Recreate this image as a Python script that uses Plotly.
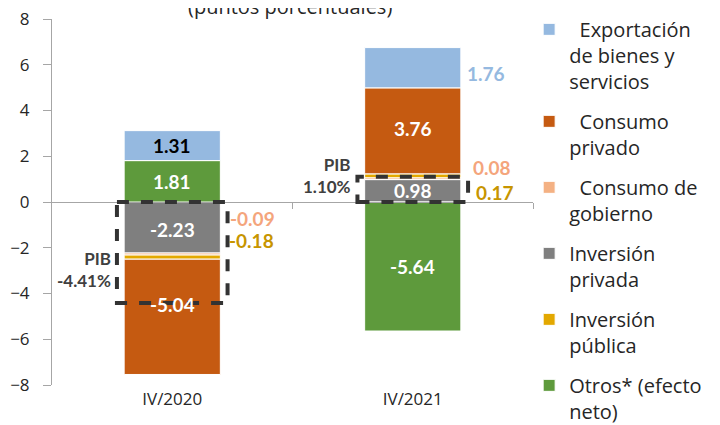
import plotly.graph_objects as go

categories = ["IV/2020", "IV/2021"]
exportacion = [1.31, 1.76]
consumo_privado = [-5.04, 3.76]
consumo_gobierno = [-0.09, 0.08]
inversion_privada = [-2.23, 0.98]
inversion_publica = [-0.18, 0.17]
otros = [1.81, -5.64]
pib = [-4.41, 1.10]
y_ticks = [-8, -6, -4, -2, 0, 2, 4, 6, 8]

AX_FONT = "Open Sans"
LBL_FONT = "Lato"

# (name, values, color, legend rank, legend label)
series = [
    ("Inversión privada", inversion_privada, "#7F7F7F", 4, "Inversión<br>privada"),
    ("Consumo de gobierno", consumo_gobierno, "#F4B183", 3, "&nbsp;&nbsp;Consumo de<br>gobierno"),
    ("Inversión pública", inversion_publica, "#E3A800", 5, "Inversión<br>pública"),
    ("Otros* (efecto neto)", otros, "#5E9A3C", 6, "Otros* (efecto<br>neto)"),
    ("Consumo privado", consumo_privado, "#C55A11", 2, "&nbsp;&nbsp;Consumo<br>privado"),
    ("Exportación de bienes y servicios", exportacion, "#95B9E0", 1,
     "&nbsp;&nbsp;Exportación<br>de bienes y<br>servicios"),
]

fig = go.Figure()
for name, vals, color, rank, lname in series:
    fig.add_trace(go.Bar(
        x=categories, y=vals, name=lname, marker_color=color,
        marker_line=dict(color="white", width=1), width=0.4,
        legendrank=rank, legendgroup=name, hoverinfo="skip",
    ))

# invisible trace so the zero-line axis (with boundary ticks) is drawn
fig.add_trace(go.Scatter(x=[0.5], y=[0], xaxis="x2", mode="markers",
                         marker=dict(opacity=0), showlegend=False, hoverinfo="skip"))

# compute stack centres (relative mode, trace order)
centres = {}
for i in range(len(categories)):
    pos, neg = 0.0, 0.0
    for name, vals, *_ in series:
        v = vals[i]
        if v >= 0:
            centres[(name, i)] = pos + v / 2
            pos += v
        else:
            centres[(name, i)] = neg + v / 2
            neg += v

annotations = []
inside = [
    ("Exportación de bienes y servicios", 0, "black", 0),
    ("Otros* (efecto neto)", 0, "white", 0),
    ("Inversión privada", 0, "white", -2),
    ("Consumo privado", 0, "white", 12),
    ("Consumo privado", 1, "white", 2),
    ("Inversión privada", 1, "white", 0),
    ("Otros* (efecto neto)", 1, "white", 0),
]
lookup = {s[0]: s for s in series}
for name, i, col, ys in inside:
    v = lookup[name][1][i]
    annotations.append(dict(
        x=i, y=centres[(name, i)], xref="x", yref="y", text=f"<b>{v:.2f}</b>",
        showarrow=False, yshift=ys, font=dict(family=LBL_FONT, size=19, color=col)))

outside = [
    ("Consumo de gobierno", 0, "#F4A57C", None, -16, -4),
    ("Inversión pública", 0, "#C79500", None, -38, -5),
    ("Consumo de gobierno", 1, "#F4A57C", None, 35, -2),
    ("Inversión pública", 1, "#C79500", None, 10, 1),
    ("Exportación de bienes y servicios", 1, "#95B9E0", "c", -6, -8),
]
for name, i, col, mode, ys, xs in outside:
    v = lookup[name][1][i]
    yv = centres[(name, i)] if mode == "c" else 0
    annotations.append(dict(
        x=i + 0.25, y=yv, xref="x", yref="y", text=f"<b>{v:.2f}</b>",
        showarrow=False, xanchor="left", yshift=ys, xshift=xs,
        font=dict(family=LBL_FONT, size=19, color=col)))

shapes = []
for i, p in enumerate(pib):
    shapes.append(dict(
        type="rect", xref="x", yref="y", x0=i - 0.23, x1=i + 0.23, y0=0, y1=p,
        line=dict(color="#333333", width=4, dash="dash"), fillcolor="rgba(0,0,0,0)"))
    annotations.append(dict(
        x=i - 0.23, y=(p * 0.67 if p < 0 else p), xref="x", yref="y",
        text=f"<b>PIB</b><br><b>{p:.2f}%</b>", showarrow=False, xanchor="right",
        align="right", xshift=-4, yshift=(0 if p < 0 else 1),
        font=dict(family=LBL_FONT, size=17, color="#404040")))

annotations.append(dict(
    x=0.495, y=1.035, xref="paper", yref="paper", text="(puntos porcentuales)",
    showarrow=False, yanchor="middle",
    font=dict(family=AX_FONT, size=20, color="#262626")))

fig.update_layout(
    barmode="relative",
    width=712, height=417,
    margin=dict(l=44, r=187, t=11, b=40, autoexpand=False),
    plot_bgcolor="white", paper_bgcolor="white",
    showlegend=True,
    legend=dict(
        x=0.992, xanchor="left", y=1.025, yanchor="top",
        traceorder="grouped", tracegroupgap=11, valign="top",
        font=dict(family=AX_FONT, size=20, color="#262626"),
        bgcolor="rgba(0,0,0,0)", maxheight=700,
    ),
    xaxis=dict(
        type="category", range=[-0.5, 1.5], showline=False, ticks="",
        showgrid=False, tickfont=dict(family=AX_FONT, size=17, color="#262626"),
        ticklabelstandoff=2,
    ),
    xaxis2=dict(
        overlaying="x", anchor="free", position=0.5, range=[-0.5, 1.5],
        showline=True, linecolor="#A6A6A6", linewidth=1, ticks="outside",
        tickvals=[0.5, 1.5], ticklen=6, tickcolor="#A6A6A6",
        showticklabels=False, showgrid=False, zeroline=False,
    ),
    yaxis=dict(
        range=[-8, 8], tickvals=y_ticks, showgrid=False, zeroline=False,
        showline=True, linecolor="#A6A6A6", linewidth=1,
        ticks="outside", ticklen=8, tickcolor="#A6A6A6",
        tickfont=dict(family=AX_FONT, size=17, color="#262626"),
        ticklabelstandoff=10, ticklabeloverflow="allow",
    ),
    shapes=shapes,
    annotations=annotations,
)

fig.write_html("out.html")
